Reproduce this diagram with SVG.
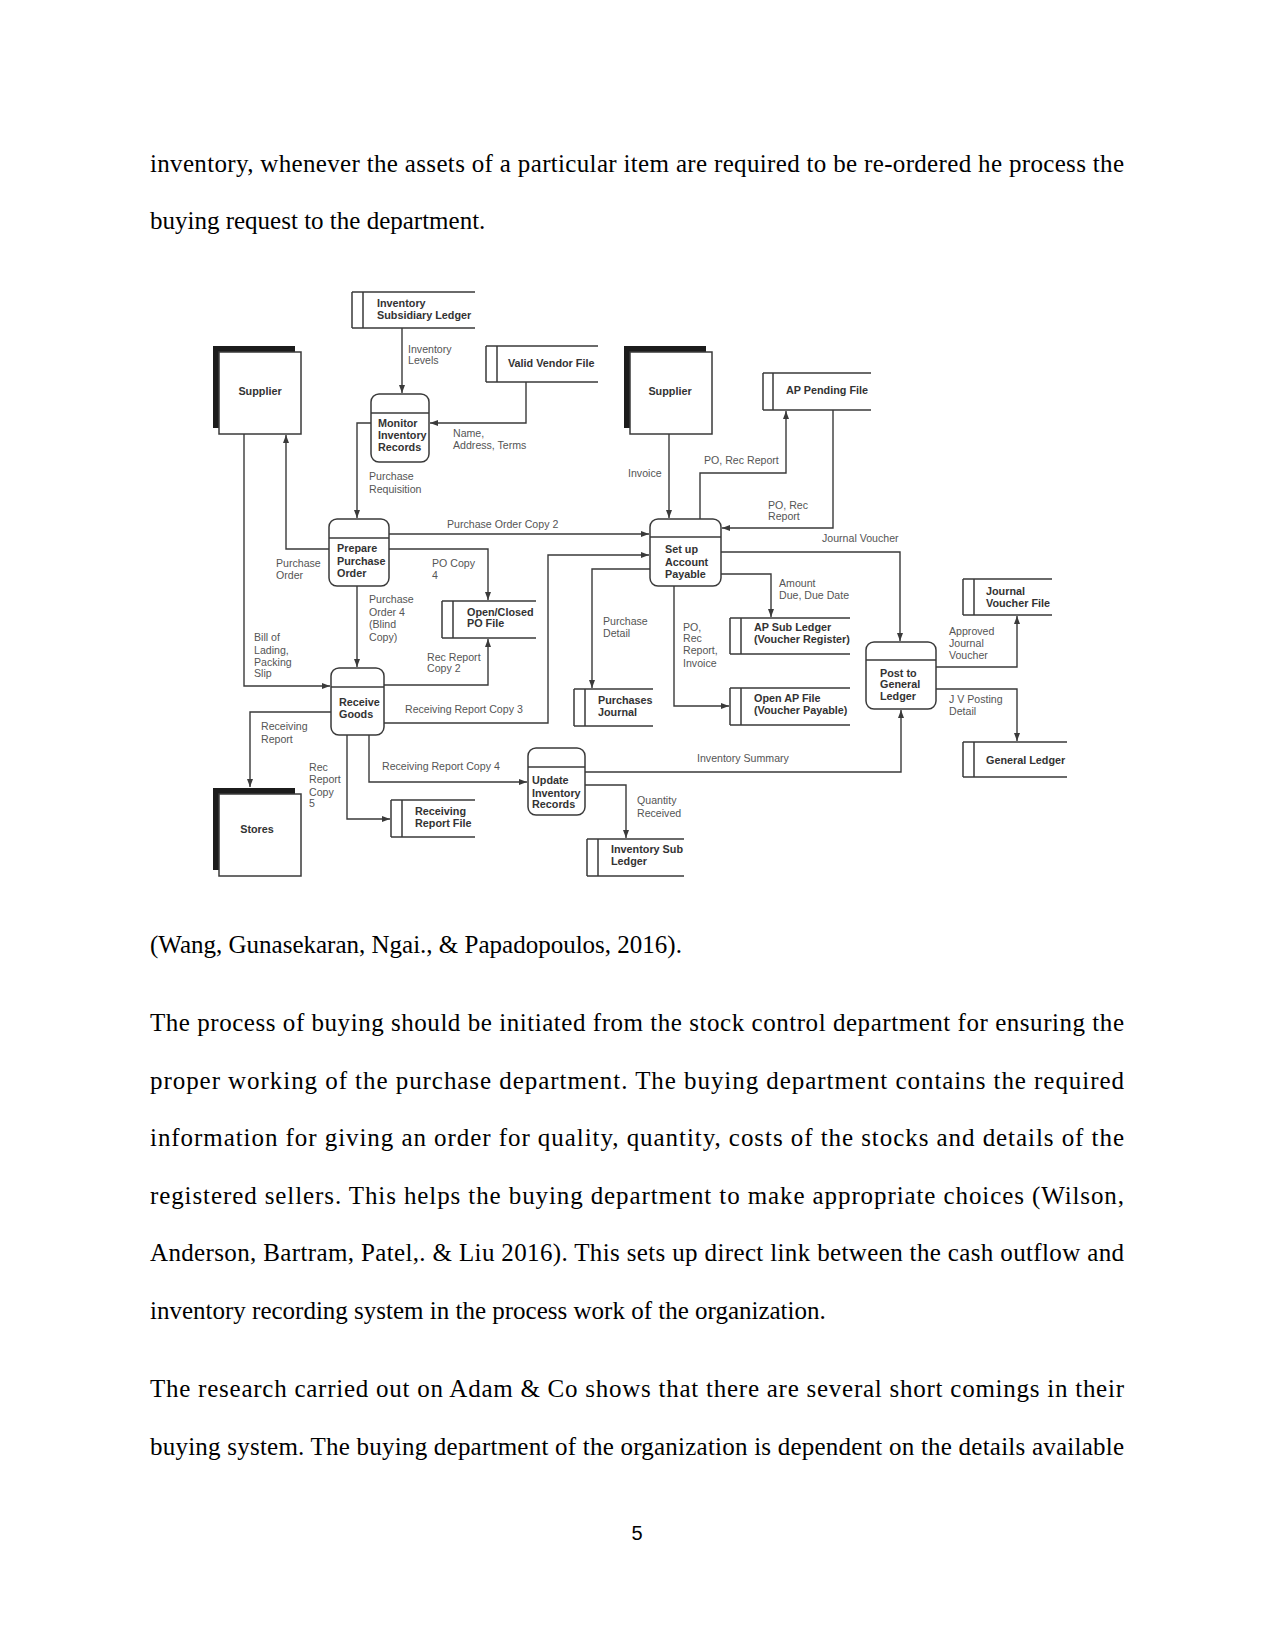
<svg xmlns="http://www.w3.org/2000/svg" width="1275" height="1651" viewBox="0 0 1275 1651">
<style>
.body{font-family:"Liberation Serif","Times New Roman",serif;font-size:25px;fill:#000}
.pn{font-family:"Liberation Sans",Arial,sans-serif;font-size:20px;fill:#000}
.nl{font-family:"Liberation Sans",Arial,sans-serif;font-size:10.8px;font-weight:bold;fill:#333}
.fl{font-family:"Liberation Sans",Arial,sans-serif;font-size:10.6px;fill:#555}
.ln{fill:none;stroke:#3a3a3a;stroke-width:1.4}
.proc{fill:#fff;stroke:#3a3a3a;stroke-width:1.5}
.st{fill:none;stroke:#3a3a3a;stroke-width:1.5}
.ext{fill:#fff;stroke:#3a3a3a;stroke-width:1.5}
.sh{fill:#1c1c1c}
</style>
<defs>
<marker id="ah" markerUnits="userSpaceOnUse" markerWidth="8" markerHeight="8" viewBox="0 0 8 8" refX="8" refY="4" orient="auto">
<path d="M0,1 L8,4 L0,7 Z" fill="#3a3a3a"/>
</marker>
</defs>
<rect width="1275" height="1651" fill="#fff"/>

<g id="page-text">
<text class="body" x="150" y="172" textLength="974" lengthAdjust="spacing">inventory, whenever the assets of a particular item are required to be re-ordered he process the</text>
<text class="body" x="150" y="229">buying request to the department.</text>
<text class="body" x="150" y="953">(Wang, Gunasekaran, Ngai., &amp; Papadopoulos, 2016).</text>
<text class="body" x="150" y="1031" textLength="974" lengthAdjust="spacing">The process of buying should be initiated from the stock control department for ensuring the</text>
<text class="body" x="150" y="1089" textLength="974" lengthAdjust="spacing">proper working of the purchase department. The buying department contains the required</text>
<text class="body" x="150" y="1146" textLength="974" lengthAdjust="spacing">information for giving an order for quality, quantity, costs of the stocks and details of the</text>
<text class="body" x="150" y="1204" textLength="974" lengthAdjust="spacing">registered sellers. This helps the buying department to make appropriate choices (Wilson,</text>
<text class="body" x="150" y="1261" textLength="974" lengthAdjust="spacing">Anderson, Bartram, Patel,. &amp; Liu 2016).  This sets up direct link between the cash outflow and</text>
<text class="body" x="150" y="1319">inventory recording system in the process work of the organization.</text>
<text class="body" x="150" y="1397" textLength="974" lengthAdjust="spacing">The research carried out on Adam &amp; Co shows that there are several short comings in their</text>
<text class="body" x="150" y="1455" textLength="974" lengthAdjust="spacing">buying system. The buying department of the organization is dependent on the details available</text>
<text class="pn" x="637" y="1540" text-anchor="middle">5</text>
</g>

<g id="connectors">
<path class="ln" d="M402,328 V393" marker-end="url(#ah)"/>
<path class="ln" d="M526,382 V423 H430" marker-end="url(#ah)"/>
<path class="ln" d="M371,423 H357 V518" marker-end="url(#ah)"/>
<path class="ln" d="M329,549 H286 V435" marker-end="url(#ah)"/>
<path class="ln" d="M389,534 H649" marker-end="url(#ah)"/>
<path class="ln" d="M389,549 H488 V600" marker-end="url(#ah)"/>
<path class="ln" d="M357,586 V667" marker-end="url(#ah)"/>
<path class="ln" d="M244,434 V686 H330" marker-end="url(#ah)"/>
<path class="ln" d="M384,685 H488 V639" marker-end="url(#ah)"/>
<path class="ln" d="M384,723 H548 V555 H649" marker-end="url(#ah)"/>
<path class="ln" d="M331,712 H250 V787" marker-end="url(#ah)"/>
<path class="ln" d="M347,735 V819 H390" marker-end="url(#ah)"/>
<path class="ln" d="M369,735 V782 H527" marker-end="url(#ah)"/>
<path class="ln" d="M585,785 H626 V838" marker-end="url(#ah)"/>
<path class="ln" d="M585,772 H901 V710" marker-end="url(#ah)"/>
<path class="ln" d="M669,434 V518" marker-end="url(#ah)"/>
<path class="ln" d="M700,519 V473 H786 V411" marker-end="url(#ah)"/>
<path class="ln" d="M833,410 V528 H722" marker-end="url(#ah)"/>
<path class="ln" d="M650,569 H592 V688" marker-end="url(#ah)"/>
<path class="ln" d="M721,552 H900 V641" marker-end="url(#ah)"/>
<path class="ln" d="M721,574 H771 V617" marker-end="url(#ah)"/>
<path class="ln" d="M674,586 V706 H729" marker-end="url(#ah)"/>
<path class="ln" d="M936,667 H1017 V616" marker-end="url(#ah)"/>
<path class="ln" d="M936,689 H1017 V741" marker-end="url(#ah)"/>
</g>

<g id="connector-labels">
<text class="fl" x="408" y="353">Inventory</text>
<text class="fl" x="408" y="364">Levels</text>
<text class="fl" x="453" y="437">Name,</text>
<text class="fl" x="453" y="449">Address, Terms</text>
<text class="fl" x="369" y="480">Purchase</text>
<text class="fl" x="369" y="493">Requisition</text>
<text class="fl" x="447" y="528">Purchase Order Copy 2</text>
<text class="fl" x="276" y="567">Purchase</text>
<text class="fl" x="276" y="579">Order</text>
<text class="fl" x="432" y="567">PO Copy</text>
<text class="fl" x="432" y="579">4</text>
<text class="fl" x="369" y="603">Purchase</text>
<text class="fl" x="369" y="616">Order 4</text>
<text class="fl" x="369" y="628">(Blind</text>
<text class="fl" x="369" y="641">Copy)</text>
<text class="fl" x="254" y="641">Bill of</text>
<text class="fl" x="254" y="654">Lading,</text>
<text class="fl" x="254" y="666">Packing</text>
<text class="fl" x="254" y="677">Slip</text>
<text class="fl" x="427" y="661">Rec Report</text>
<text class="fl" x="427" y="672">Copy 2</text>
<text class="fl" x="405" y="713">Receiving Report Copy 3</text>
<text class="fl" x="261" y="730">Receiving</text>
<text class="fl" x="261" y="743">Report</text>
<text class="fl" x="309" y="771">Rec</text>
<text class="fl" x="309" y="783">Report</text>
<text class="fl" x="309" y="796">Copy</text>
<text class="fl" x="309" y="807">5</text>
<text class="fl" x="382" y="770">Receiving Report Copy 4</text>
<text class="fl" x="637" y="804">Quantity</text>
<text class="fl" x="637" y="817">Received</text>
<text class="fl" x="697" y="762">Inventory Summary</text>
<text class="fl" x="628" y="477">Invoice</text>
<text class="fl" x="704" y="464">PO, Rec Report</text>
<text class="fl" x="768" y="509">PO, Rec</text>
<text class="fl" x="768" y="520">Report</text>
<text class="fl" x="822" y="542">Journal Voucher</text>
<text class="fl" x="779" y="587">Amount</text>
<text class="fl" x="779" y="599">Due, Due Date</text>
<text class="fl" x="603" y="625">Purchase</text>
<text class="fl" x="603" y="637">Detail</text>
<text class="fl" x="683" y="631">PO,</text>
<text class="fl" x="683" y="642">Rec</text>
<text class="fl" x="683" y="654">Report,</text>
<text class="fl" x="683" y="667">Invoice</text>
<text class="fl" x="949" y="635">Approved</text>
<text class="fl" x="949" y="647">Journal</text>
<text class="fl" x="949" y="659">Voucher</text>
<text class="fl" x="949" y="703">J V Posting</text>
<text class="fl" x="949" y="715">Detail</text>
</g>

<g id="supplier-1">
<rect class="sh" x="213" y="346" width="82" height="82"/>
<rect class="ext" x="219" y="352" width="82" height="82"/>
<text class="nl" x="260" y="395" text-anchor="middle">Supplier</text>
</g>
<g id="supplier-2">
<rect class="sh" x="624" y="346" width="82" height="82"/>
<rect class="ext" x="630" y="352" width="82" height="82"/>
<text class="nl" x="670" y="395" text-anchor="middle">Supplier</text>
</g>
<g id="stores">
<rect class="sh" x="213" y="788" width="82" height="82"/>
<rect class="ext" x="219" y="794" width="82" height="82"/>
<text class="nl" x="257" y="833" text-anchor="middle">Stores</text>
</g>

<g id="inventory-subsidiary-ledger">
<path class="st" d="M352,292 H475 M352,328 H475 M352,292 V328 M363,292 V328"/>
<text class="nl" x="377" y="307">Inventory</text>
<text class="nl" x="377" y="319">Subsidiary Ledger</text>
</g>
<g id="valid-vendor-file">
<path class="st" d="M486,346 H598 M486,382 H598 M486,346 V382 M497,346 V382"/>
<text class="nl" x="508" y="367">Valid Vendor File</text>
</g>
<g id="ap-pending-file">
<path class="st" d="M763,373 H871 M763,410 H871 M763,373 V410 M773,373 V410"/>
<text class="nl" x="786" y="394">AP Pending File</text>
</g>
<g id="open-closed-po-file">
<path class="st" d="M442,601 H536 M442,638 H536 M442,601 V638 M453,601 V638"/>
<text class="nl" x="467" y="616">Open/Closed</text>
<text class="nl" x="467" y="627">PO File</text>
</g>
<g id="receiving-report-file">
<path class="st" d="M391,800 H475 M391,837 H475 M391,800 V837 M402,800 V837"/>
<text class="nl" x="415" y="815">Receiving</text>
<text class="nl" x="415" y="827">Report File</text>
</g>
<g id="inventory-sub-ledger">
<path class="st" d="M587,839 H684 M587,876 H684 M587,839 V876 M598,839 V876"/>
<text class="nl" x="611" y="853">Inventory Sub</text>
<text class="nl" x="611" y="865">Ledger</text>
</g>
<g id="purchases-journal">
<path class="st" d="M574,689 H653 M574,726 H653 M574,689 V726 M585,689 V726"/>
<text class="nl" x="598" y="704">Purchases</text>
<text class="nl" x="598" y="716">Journal</text>
</g>
<g id="ap-sub-ledger">
<path class="st" d="M730,618 H850 M730,654 H850 M730,618 V654 M741,618 V654"/>
<text class="nl" x="754" y="631">AP Sub Ledger</text>
<text class="nl" x="754" y="643">(Voucher Register)</text>
</g>
<g id="open-ap-file">
<path class="st" d="M730,688 H850 M730,725 H850 M730,688 V725 M741,688 V725"/>
<text class="nl" x="754" y="702">Open AP File</text>
<text class="nl" x="754" y="714">(Voucher Payable)</text>
</g>
<g id="journal-voucher-file">
<path class="st" d="M963,579 H1052 M963,615 H1052 M963,579 V615 M974,579 V615"/>
<text class="nl" x="986" y="595">Journal</text>
<text class="nl" x="986" y="607">Voucher File</text>
</g>
<g id="general-ledger">
<path class="st" d="M963,742 H1067 M963,777 H1067 M963,742 V777 M974,742 V777"/>
<text class="nl" x="986" y="764">General Ledger</text>
</g>

<g id="monitor-inventory-records">
<rect class="proc" x="371" y="394" width="58" height="68" rx="8"/>
<line class="st" x1="371" y1="413" x2="429" y2="413"/>
<text class="nl" x="378" y="427">Monitor</text>
<text class="nl" x="378" y="439">Inventory</text>
<text class="nl" x="378" y="451">Records</text>
</g>
<g id="prepare-purchase-order">
<rect class="proc" x="329" y="519" width="60" height="67" rx="8"/>
<line class="st" x1="329" y1="538" x2="389" y2="538"/>
<text class="nl" x="337" y="552">Prepare</text>
<text class="nl" x="337" y="565">Purchase</text>
<text class="nl" x="337" y="577">Order</text>
</g>
<g id="receive-goods">
<rect class="proc" x="331" y="668" width="53" height="67" rx="8"/>
<line class="st" x1="331" y1="687" x2="384" y2="687"/>
<text class="nl" x="339" y="706">Receive</text>
<text class="nl" x="339" y="718">Goods</text>
</g>
<g id="update-inventory-records">
<rect class="proc" x="528" y="748" width="57" height="67" rx="8"/>
<line class="st" x1="528" y1="767" x2="585" y2="767"/>
<text class="nl" x="532" y="784">Update</text>
<text class="nl" x="532" y="797">Inventory</text>
<text class="nl" x="532" y="808">Records</text>
</g>
<g id="set-up-account-payable">
<rect class="proc" x="650" y="519" width="71" height="67" rx="8"/>
<line class="st" x1="650" y1="537" x2="721" y2="537"/>
<text class="nl" x="665" y="553">Set up</text>
<text class="nl" x="665" y="566">Account</text>
<text class="nl" x="665" y="578">Payable</text>
</g>
<g id="post-to-general-ledger">
<rect class="proc" x="866" y="642" width="70" height="67" rx="8"/>
<line class="st" x1="866" y1="660" x2="936" y2="660"/>
<text class="nl" x="880" y="677">Post to</text>
<text class="nl" x="880" y="688">General</text>
<text class="nl" x="880" y="700">Ledger</text>
</g>
</svg>
